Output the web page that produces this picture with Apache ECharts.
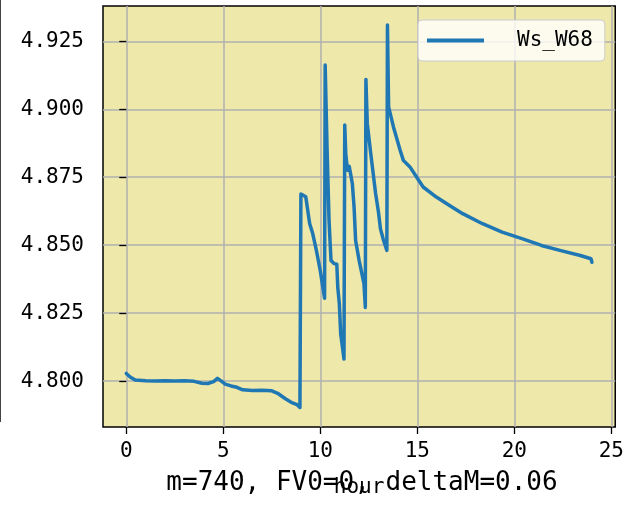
<!DOCTYPE html>
<html>
<head>
<meta charset="utf-8">
<script src="https://cdn.jsdelivr.net/npm/echarts@6/dist/echarts.min.js"></script>
<style>
  html, body { margin: 0; padding: 0; background: #fff; }
  #chart { width: 627px; height: 508px; }
</style>
</head>
<body>
<div id="chart"></div>
<script>
// 时间 (hour)
var hours = [
    0, 0.2, 0.46, 1.0, 1.5, 2.0, 2.5, 3.0, 3.5, 3.9, 4.2, 4.5, 4.7, 4.9, 5.1, 5.4, 5.7,
    6.0, 6.5, 7.0, 7.5, 7.8, 8.2, 8.5, 8.8, 8.95,
    9.0, 9.1, 9.25, 9.45, 9.6, 9.8, 10.0, 10.22,
    10.25, 10.35, 10.45, 10.55, 10.72, 10.85, 10.9, 10.98, 11.05, 11.15, 11.22,
    11.26, 11.31, 11.4, 11.49, 11.65, 11.74, 11.82, 12.0, 12.25, 12.32,
    12.35, 12.42, 12.6, 12.85, 13.0, 13.1, 13.25, 13.43,
    13.46, 13.52, 13.77, 14.11, 14.28, 14.62, 14.96, 15.3, 15.98, 16.66, 17.34,
    18.36, 19.37, 20.39, 21.4, 22.4, 23.4, 23.95, 24.0
];
// Ws_W68
var wsW68 = [
    4.8028, 4.8015, 4.8004, 4.8001, 4.8000, 4.8001, 4.8000, 4.8001, 4.7999, 4.7992, 4.7991, 4.7998, 4.8010, 4.8000, 4.7989, 4.7982, 4.7977,
    4.7968, 4.7965, 4.7966, 4.7964, 4.7955, 4.7935, 4.7922, 4.7913, 4.7903,
    4.8688, 4.8692, 4.8678, 4.8580, 4.8545, 4.8480, 4.8405, 4.8305,
    4.9163, 4.8850, 4.8590, 4.8444, 4.8432, 4.8430, 4.8345, 4.8285, 4.8174, 4.8120, 4.8081,
    4.8942, 4.8837, 4.8776, 4.8790, 4.8727, 4.8640, 4.8517, 4.8444, 4.8358, 4.8271,
    4.9110, 4.8948, 4.8837, 4.8690, 4.8620, 4.8560, 4.8520, 4.8481,
    4.9310, 4.9009, 4.8935, 4.8850, 4.8812, 4.8788, 4.8751, 4.8714, 4.8677, 4.8646, 4.8616,
    4.8579, 4.8548, 4.8524, 4.8499, 4.8480, 4.8462, 4.8450, 4.8437
];
var xTicks = [0, 5, 10, 15, 20, 25];
var yTicks = [4.800, 4.825, 4.850, 4.875, 4.900, 4.925];

var monoFont = '"DejaVu Sans Mono", "Liberation Mono", monospace';

var chart = echarts.init(document.getElementById('chart'), null, { renderer: 'canvas' });

var seriesData = hours.map(function (h, i) { return [h, wsW68[i]]; });

var option = {
    animation: false,
    backgroundColor: '#ffffff',
    grid: {
        left: 103, right: 6, top: 6, bottom: 81,
        show: true,
        backgroundColor: '#eee8aa',
        borderColor: '#000000',
        borderWidth: 1.5
    },
    legend: {
        left: 418, top: 20,
        padding: [10, 12, 10, 9],
        backgroundColor: 'rgba(255,255,255,0.8)',
        borderColor: '#cccccc',
        borderWidth: 1,
        borderRadius: 4,
        itemWidth: 57,
        itemHeight: 14,
        textStyle: {
            fontFamily: monoFont, fontSize: 21, color: '#000',
            padding: [0, 0, 0, 28]
        },
        data: [{ name: 'Ws_W68', icon: 'path://M0,0 L57,0 L57,4 L0,4 Z' }]
    },
    xAxis: {
        type: 'value',
        min: -1.2, max: 25.2,
        axisLine: { show: false },
        axisTick: {
            show: true, length: 7, customValues: xTicks,
            lineStyle: { color: '#000', width: 1.3 }
        },
        axisLabel: {
            customValues: xTicks, margin: 14,
            fontFamily: monoFont, fontSize: 21, color: '#000'
        },
        splitLine: { show: true, lineStyle: { color: '#b0b0b0', width: 1.5 } },
        name: 'hour',
        nameLocation: 'middle',
        nameGap: 50,
        nameTextStyle: { fontFamily: monoFont, fontSize: 21, color: '#000' }
    },
    yAxis: {
        type: 'value',
        min: 4.7831, max: 4.938,
        axisLine: { show: false },
        axisTick: {
            show: true, length: 7, customValues: yTicks,
            lineStyle: { color: '#000', width: 1.3 }
        },
        axisLabel: {
            customValues: yTicks, margin: 19,
            fontFamily: monoFont, fontSize: 21, color: '#000',
            formatter: function (v) { return v.toFixed(3); }
        },
        splitLine: { show: true, lineStyle: { color: '#b0b0b0', width: 1.5 } }
    },
    series: [{
        name: 'Ws_W68',
        type: 'line',
        data: seriesData,
        symbol: 'none',
        lineStyle: { color: '#1f77b4', width: 3.5, join: 'round', cap: 'round' },
        itemStyle: { color: '#1f77b4' },
        z: 3
    }],
    graphic: [
        {
            type: 'line',
            shape: { x1: 0.5, y1: 0, x2: 0.5, y2: 422 },
            style: { stroke: '#444444', lineWidth: 1 }
        },
        {
            type: 'text',
            x: 362, y: 483,
            style: {
                text: 'm=740, FV0=0, deltaM=0.06',
                fontFamily: monoFont, fontSize: 26, fill: '#000',
                align: 'center', verticalAlign: 'middle'
            }
        }
    ]
};

chart.setOption(option);
</script>
</body>
</html>
